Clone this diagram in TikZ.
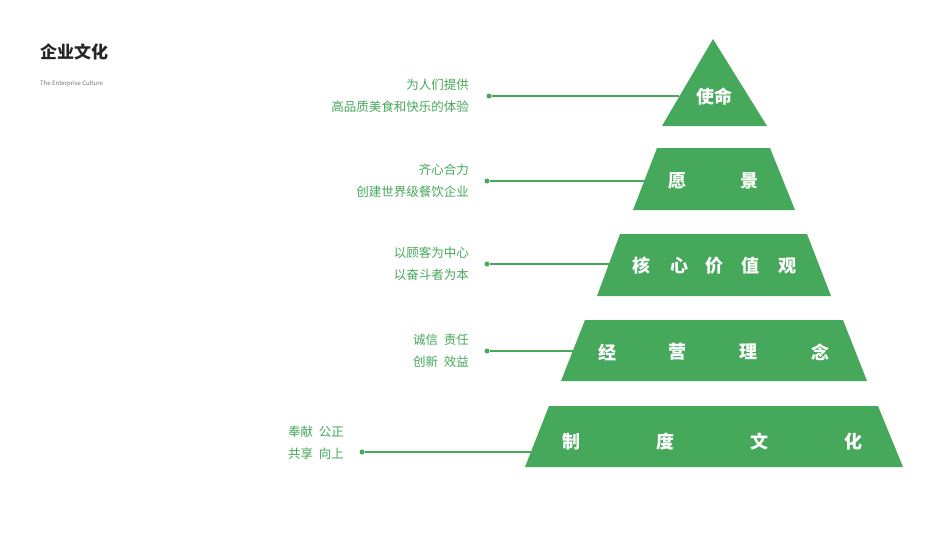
\documentclass[tikz,border=0pt]{standalone}
\usepackage{fontspec}
\setmainfont{Noto Sans CJK SC}
\definecolor{g}{HTML}{45A85A}
\begin{document}
\begin{tikzpicture}[x=1pt,y=-1pt,
 tier/.style={fill=g,draw=none},
 lab/.style={text=white,font=\fontsize{18}{20}\selectfont\bfseries,inner sep=0},
 desc/.style={text=g,font=\fontsize{12.5}{22}\selectfont,align=right,anchor=east,inner sep=0},
 conn/.style={draw=g,line width=1.2pt},
 dot/.style={circle,fill=g,inner sep=0,minimum size=5pt}]
\useasboundingbox (0,0) rectangle (950,535);
\node[anchor=west,inner sep=0,font=\fontsize{17}{20}\selectfont\bfseries,text=black!85] (title) at (40,52) {企业文化};
\node[anchor=west,inner sep=0,font=\fontsize{6}{7}\selectfont,text=black!55] (sub) at (40,84) {The Enterprise Culture};
\fill[tier] (713,39) -- (767,126) -- (662,126) -- cycle;
\fill[tier] (657,148) -- (770,148) -- (795,210) -- (633,210) -- cycle;
\fill[tier] (620,234) -- (807,234) -- (831,296) -- (597,296) -- cycle;
\fill[tier] (585,320) -- (843,320) -- (867,381) -- (561,381) -- cycle;
\fill[tier] (549,406) -- (878,406) -- (903,467) -- (525,467) -- cycle;
\node[lab] (t1) at (714,97) {使命};
\node[lab] (t2a) at (677,181) {愿};\node[lab] (t2b) at (749,181) {景};
\foreach \x/\c [count=\i] in {641/核,679/心,714/价,750/值,787/观}{\node[lab] (t3\i) at (\x,266) {\c};}
\foreach \x/\c [count=\i] in {607/经,677/营,748/理,820/念}{\node[lab] (t4\i) at (\x,352) {\c};}
\foreach \x/\c [count=\i] in {571/制,665/度,759/文,853/化}{\node[lab] (t5\i) at (\x,442) {\c};}
\node[dot] (d1) at (489,96) {}; \coordinate (e1) at (679,96);
\node[dot] (d2) at (487,181) {}; \coordinate (e2) at (645,181);
\node[dot] (d3) at (487,264) {}; \coordinate (e3) at (610,264);
\node[dot] (d4) at (487,351) {}; \coordinate (e4) at (574,351);
\node[dot] (d5) at (362,452) {}; \coordinate (e5) at (531,452);
\foreach \i in {1,...,5}{\draw[conn] (d\i) -- (e\i);}
\node[desc] (s1) at (469,96) {为人们提供\\高品质美食和快乐的体验};
\node[desc] (s2) at (469,181) {齐心合力\\创建世界级餐饮企业};
\node[desc] (s3) at (469,264) {以顾客为中心\\以奋斗者为本};
\node[desc] (s4) at (469,351) {诚信\ \ 责任\\创新\ \ 效益};
\node[desc] (s5) at (344,443) {奉献\ \ 公正\\共享\ \ 向上};
\end{tikzpicture}
\end{document}
